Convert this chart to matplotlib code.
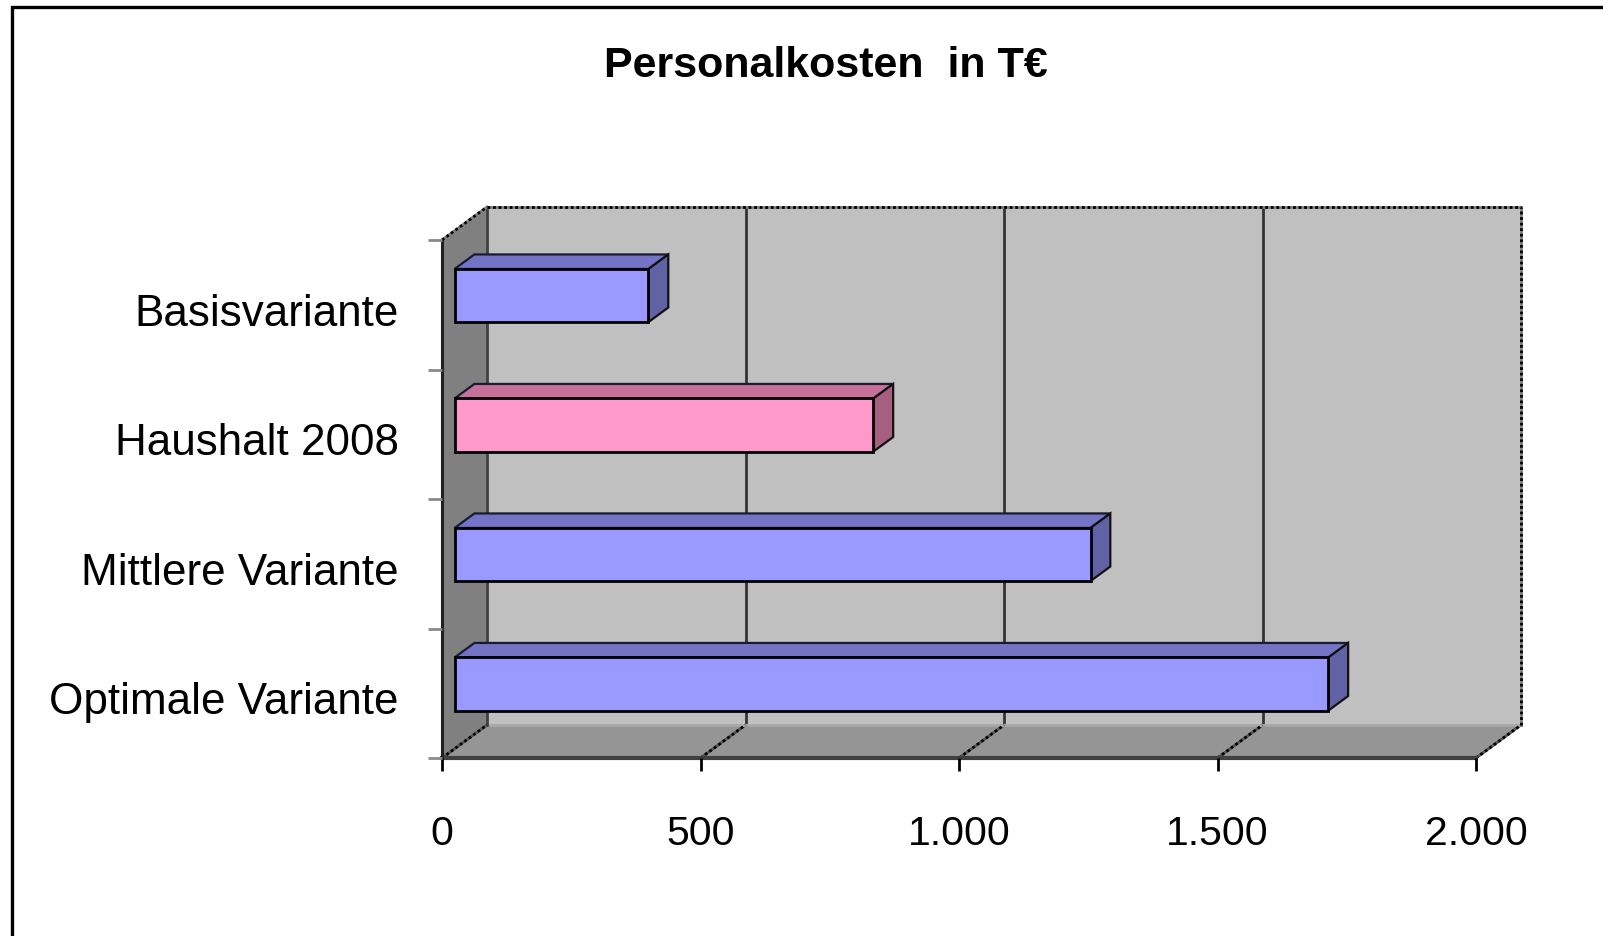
import matplotlib
matplotlib.use("Agg")
import matplotlib.pyplot as plt
from matplotlib.patches import Polygon, Rectangle
from matplotlib.ticker import FuncFormatter
from matplotlib.transforms import ScaledTranslation

plt.rcParams["font.family"] = ["Liberation Sans", "DejaVu Sans"]

# data
categories = ["Basisvariante", "Haushalt 2008", "Mittlere Variante", "Optimale Variante"]
values = [375, 810, 1230, 1690]
x_ticks = [0, 500, 1000, 1500, 2000]
title = "Personalkosten  in T\u20ac"

# colours (front, top, side) per bar
face_cols = ["#9999ff", "#ff99cc", "#9999ff", "#9999ff"]
top_cols = ["#7474c6", "#c67199", "#7474c6", "#7474c6"]
side_cols = ["#6161a6", "#a65f80", "#6161a6", "#6161a6"]

W, H = 1603, 937
fig = plt.figure(figsize=(W / 100, H / 100), dpi=100)
fig.patch.set_facecolor("white")

# front plane of the 3d box, pixel box
left_px, right_px, top_px, bot_px = 442, 1476, 241, 759
ax = fig.add_axes([left_px / W, 1 - bot_px / H, (right_px - left_px) / W, (bot_px - top_px) / H])
ax.set_xlim(0, 2000)
ax.set_ylim(-0.5, 3.5)
ax.patch.set_visible(False)
for s in ax.spines.values():
    s.set_visible(False)

# depth of the box (oblique projection), converted to data units
depth_px = (45, 33)
DX = depth_px[0] / ((right_px - left_px) / 2000)
DY = depth_px[1] / ((bot_px - top_px) / 4)
F0, F1 = 0.28, 0.72   # bar sits between these depth fractions
BAR_H = 0.41

y0, y1 = -0.5, 3.5
xmax = x_ticks[-1]

# walls
ax.add_patch(Rectangle((DX, y0 + DY), xmax, y1 - y0, fc="#c0c0c0", ec="none", zorder=0, clip_on=False))
ax.add_patch(Polygon([(0, y0), (DX, y0 + DY), (DX, y1 + DY), (0, y1)],
                     fc="#808080", ec="none", zorder=0.5, clip_on=False))
ax.add_patch(Polygon([(0, y0), (xmax, y0), (xmax + DX, y0 + DY), (DX, y0 + DY)],
                     fc="#959595", ec="none", zorder=0.5, clip_on=False))

# gridlines on back wall and floor
for xv in x_ticks[1:-1]:
    ax.plot([xv + DX, xv + DX], [y0 + DY, y1 + DY], color="#333333", lw=2, zorder=1, clip_on=False)
for xv in x_ticks:
    ax.plot([xv, xv + DX], [y0, y0 + DY], color="#555555", lw=2, zorder=1, clip_on=False)
    ax.plot([xv, xv + DX], [y0, y0 + DY], color="black", lw=2, ls=(0, (1, 1)), zorder=1.1, clip_on=False)

# box edges
ax.plot([DX, xmax + DX], [y0 + DY, y0 + DY], color="#a8a8a8", lw=2, zorder=1, clip_on=False)
ax.plot([DX, DX], [y0 + DY, y1 + DY], color="#404040", lw=2, zorder=1, clip_on=False)
ax.plot([0, xmax], [y0, y0], color="#404040", lw=3, zorder=1.2, clip_on=False)
ax.plot([0, 0], [y0, y1], color="#202020", lw=2.2, zorder=1.2, clip_on=False)
for xs, ys in [([0, DX], [y1, y1 + DY]),
               ([DX, xmax + DX], [y1 + DY, y1 + DY]),
               ([xmax + DX, xmax + DX], [y0 + DY, y1 + DY])]:
    ax.plot(xs, ys, color="#808080", lw=2, zorder=1.1, clip_on=False)
    ax.plot(xs, ys, color="black", lw=2, ls=(0, (1, 1)), zorder=1.2, clip_on=False)

# bars
n = len(categories)
ypos = [n - 1 - i for i in range(n)]
ddx, ddy = (F1 - F0) * DX, (F1 - F0) * DY
for i, v in enumerate(values):
    yc = ypos[i] + F0 * DY
    yb, yt = yc - BAR_H / 2, yc + BAR_H / 2
    xa, xb = F0 * DX, F0 * DX + v
    ax.add_patch(Polygon([(xa, yt), (xb, yt), (xb + ddx, yt + ddy), (xa + ddx, yt + ddy)],
                         fc=top_cols[i], ec="#1a1a33", lw=1.6, zorder=3, clip_on=False))
    ax.add_patch(Polygon([(xb, yb), (xb, yt), (xb + ddx, yt + ddy), (xb + ddx, yb + ddy)],
                         fc=side_cols[i], ec="#111111", lw=1.6, zorder=3, clip_on=False))
ax.barh([p + F0 * DY for p in ypos], values, height=BAR_H, left=F0 * DX,
        color=face_cols, edgecolor="black", linewidth=2, zorder=4, clip_on=False)

# axes ticks and labels
ax.set_xticks(x_ticks)
ax.xaxis.set_major_formatter(FuncFormatter(lambda x, p: f"{x:,.0f}".replace(",", ".")))
ax.tick_params(axis="x", direction="out", length=9.5, width=2, color="black",
               labelsize=29.5, pad=30.5)
ax.set_yticks(ypos)
ax.set_yticklabels(categories)
ax.set_yticks([-0.5, 0.5, 1.5, 2.5, 3.5], minor=True)
ax.tick_params(axis="y", which="major", length=0, labelsize=31.7, pad=31)
ax.tick_params(axis="y", which="minor", length=10, width=2, color="#8a8a8a")
shift_down = ScaledTranslation(0, -4 / 100, fig.dpi_scale_trans)
for lab in ax.get_yticklabels():
    lab.set_transform(lab.get_transform() + shift_down)

fig.text(826 / W, 1 - 77 / H, title, ha="center", va="baseline",
         fontsize=31, fontweight="bold")

# outer chart border (runs off the right and bottom edges)
fig.add_artist(Rectangle((12 / W, -0.1), 1.2, 1.1 - 7.5 / H, transform=fig.transFigure,
                         fill=False, ec="black", lw=2.4))

fig.savefig("out.png", dpi=100)
